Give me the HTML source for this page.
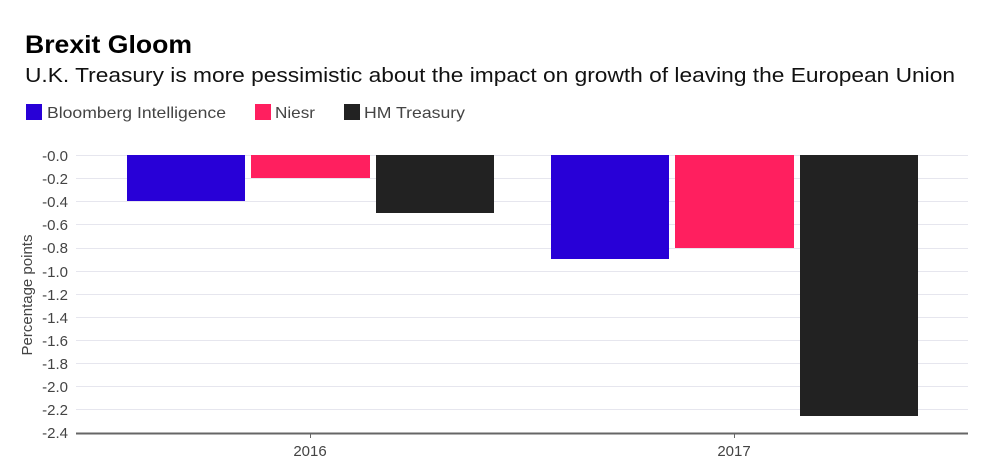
<!DOCTYPE html>
<html><head><meta charset="utf-8"><style>
body{margin:0;background:#fff;width:1000px;height:471px;overflow:hidden;font-family:"Liberation Sans",sans-serif}
</style></head><body>
<svg width="1000" height="471" xmlns="http://www.w3.org/2000/svg" font-family="Liberation Sans, sans-serif">
<text x="25" y="53" font-size="25" font-weight="bold" fill="#000" textLength="167" lengthAdjust="spacingAndGlyphs">Brexit Gloom</text>
<text x="25" y="82" font-size="20" fill="#111" textLength="930" lengthAdjust="spacingAndGlyphs">U.K. Treasury is more pessimistic about the impact on growth of leaving the European Union</text>
<rect x="26" y="104" width="16" height="16" fill="#2800d7"/>
<text x="47" y="118" font-size="16" fill="#444" textLength="179" lengthAdjust="spacingAndGlyphs">Bloomberg Intelligence</text>
<rect x="255" y="104" width="16" height="16" fill="#ff1f5f"/>
<text x="275" y="118" font-size="16" fill="#444" textLength="40" lengthAdjust="spacingAndGlyphs">Niesr</text>
<rect x="344" y="104" width="16" height="16" fill="#222"/>
<text x="364" y="118" font-size="16" fill="#444" textLength="101" lengthAdjust="spacingAndGlyphs">HM Treasury</text>
<g stroke="#e6e6ee" stroke-width="1">
<line x1="76" x2="968" y1="155.5" y2="155.5"/><line x1="76" x2="968" y1="178.5" y2="178.5"/><line x1="76" x2="968" y1="201.5" y2="201.5"/><line x1="76" x2="968" y1="224.5" y2="224.5"/><line x1="76" x2="968" y1="248.5" y2="248.5"/><line x1="76" x2="968" y1="271.5" y2="271.5"/><line x1="76" x2="968" y1="294.5" y2="294.5"/><line x1="76" x2="968" y1="317.5" y2="317.5"/><line x1="76" x2="968" y1="340.5" y2="340.5"/><line x1="76" x2="968" y1="363.5" y2="363.5"/><line x1="76" x2="968" y1="386.5" y2="386.5"/><line x1="76" x2="968" y1="409.5" y2="409.5"/>
</g>
<g font-size="15" fill="#444" text-anchor="end">
<text x="68" y="161">-0.0</text><text x="68" y="184">-0.2</text><text x="68" y="207">-0.4</text><text x="68" y="230">-0.6</text><text x="68" y="253">-0.8</text><text x="68" y="277">-1.0</text><text x="68" y="300">-1.2</text><text x="68" y="323">-1.4</text><text x="68" y="346">-1.6</text><text x="68" y="369">-1.8</text><text x="68" y="392">-2.0</text><text x="68" y="415">-2.2</text><text x="68" y="438">-2.4</text>
</g>
<text transform="translate(32,295) rotate(-90)" font-size="15" fill="#444" text-anchor="middle">Percentage points</text>
<rect x="127" y="155" width="118" height="46" fill="#2800d7"/>
<rect x="251" y="155" width="119" height="23" fill="#ff1f5f"/>
<rect x="376" y="155" width="118" height="58" fill="#222"/>
<rect x="551" y="155" width="118" height="104" fill="#2800d7"/>
<rect x="675" y="155" width="119" height="93" fill="#ff1f5f"/>
<rect x="800" y="155" width="118" height="261" fill="#222"/>
<line x1="76" x2="968" y1="433.5" y2="433.5" stroke="#666" stroke-width="2"/>
<line x1="310.5" x2="310.5" y1="433" y2="438" stroke="#666"/>
<line x1="734.5" x2="734.5" y1="433" y2="438" stroke="#666"/>
<g font-size="15" fill="#444" text-anchor="middle"><text x="310" y="456">2016</text><text x="734" y="456">2017</text></g>
</svg>
</body></html>
